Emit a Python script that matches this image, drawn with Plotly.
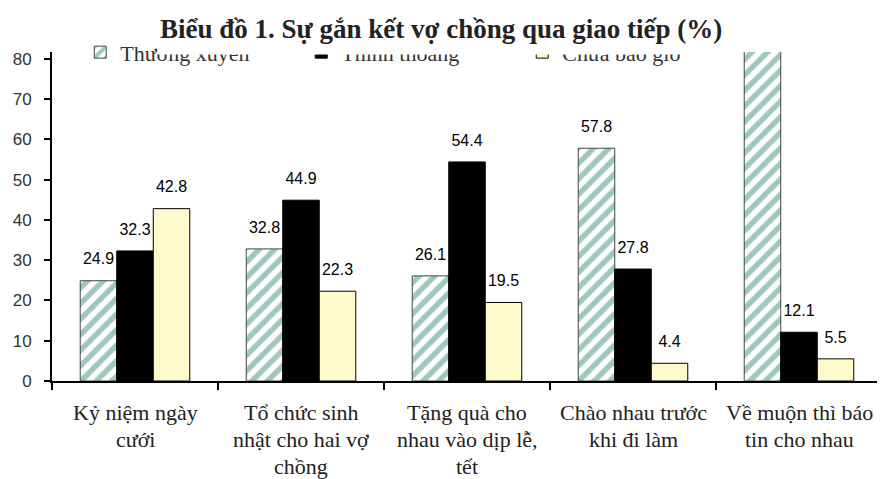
import plotly.graph_objects as go

categories = ["Kỷ niệm ngày<br>cưới",
              "Tổ chức sinh<br>nhật cho hai vợ<br>chồng",
              "Tặng quà cho<br>nhau vào dịp lễ,<br>tết",
              "Chào nhau trước<br>khi đi làm",
              "Về muộn thì báo<br>tin cho nhau"]
series_names = ["Thường xuyên", "Thỉnh thoảng", "Chưa bao giờ"]
thuong_xuyen = [24.9, 32.8, 26.1, 57.8, 82.4]
thinh_thoang = [32.3, 44.9, 54.4, 27.8, 12.1]
chua_bao_gio = [42.8, 22.3, 19.5, 4.4, 5.5]
y_ticks = [0, 10, 20, 30, 40, 50, 60, 70, 80]
y_max = 81.7
title_text = "Biểu đồ 1. Sự gắn kết vợ chồng qua giao tiếp (%)"

GAP = 0.34


def lbl(vals):
    return [f"{v:.1f}" if v <= y_max - 3 else "" for v in vals]


fig = go.Figure()
markers = [
    dict(color="white", line=dict(color="#444444", width=1),
         pattern=dict(shape="/", fgcolor="#3f8f80", bgcolor="white",
                      size=11, solidity=0.5)),
    dict(color="black", line=dict(color="black", width=1)),
    dict(color="#fff9cc", line=dict(color="black", width=1)),
]
all_vals = [thuong_xuyen, thinh_thoang, chua_bao_gio]
for name, vals, mk in zip(series_names, all_vals, markers):
    fig.add_trace(go.Bar(x=categories, y=vals, name=name, marker=mk,
                         offsetgroup=name, cliponaxis=True))
for name, vals in zip(series_names, all_vals):
    fig.add_trace(go.Scatter(
        x=categories, y=vals, mode="markers+text", text=lbl(vals),
        textposition="top center", offsetgroup=name, showlegend=False,
        marker=dict(size=18, opacity=0), hoverinfo="skip", cliponaxis=True,
        textfont=dict(family="Liberation Sans, Arial", size=16, color="black")))

annotations = []
for c in categories:
    for i, line in enumerate(c.split("<br>")):
        annotations.append(dict(
            x=c, xref="x", y=0, yref="paper", text=line, showarrow=False,
            yanchor="middle", xanchor="center", yshift=-31 - 27 * i,
            font=dict(family="Liberation Serif, Times New Roman", size=22, color="#222")))

annotations.append(dict(
    x=0.469, xref="paper", y=1.0, yref="paper", text=f"<b>{title_text}</b>",
    showarrow=False, xanchor="center", yanchor="bottom",
    height=38, valign="top", yshift=-3,
    font=dict(family="Liberation Serif, Times New Roman", size=27, color="#222"),
    bgcolor="white", borderpad=2))

fig.update_layout(
    width=877, height=471,
    margin=dict(l=44, r=3, t=44, b=98),
    plot_bgcolor="white", paper_bgcolor="white",
    barmode="group", bargap=GAP, bargroupgap=0,
    scattermode="group", scattergap=GAP,
    showlegend=True,
    legend=dict(orientation="h", x=0.034, xanchor="left",
                y=0.999, yanchor="middle",
                font=dict(family="Liberation Serif, Times New Roman", size=22, color="#333"),
                entrywidth=176, entrywidthmode="pixels", bgcolor="rgba(0,0,0,0)"),
    annotations=annotations,
)

fig.update_xaxes(type="category", showticklabels=False, tickson="boundaries",
                 ticks="outside", ticklen=7, tickwidth=1.5, tickcolor="black",
                 showline=True, linecolor="black", linewidth=2, showgrid=False,
                 automargin=False)
fig.update_yaxes(range=[0, y_max], tickvals=y_ticks, ticks="outside", ticklen=6,
                 tickwidth=1.5, tickcolor="black", showline=True, linecolor="black",
                 linewidth=2, showgrid=False, zeroline=False, automargin=False,
                 ticklabelstandoff=9,
                 tickfont=dict(family="Liberation Sans, Arial", size=17, color="#333"))

fig.write_html("out.html")
